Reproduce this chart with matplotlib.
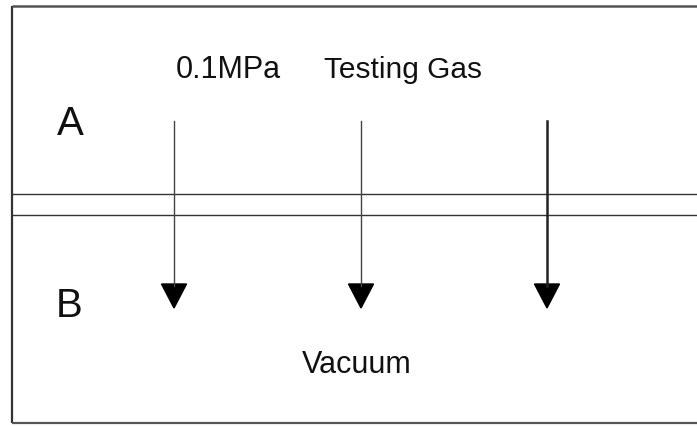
import matplotlib
matplotlib.use("Agg")
import matplotlib.pyplot as plt
from matplotlib.patches import Polygon

W, H = 697, 426

# Labels and their anchor positions (pixel space)
label_texts = ["0.1MPa", "Testing Gas", "Vacuum"]
label_x = [228, 403, 357]
label_y = [78, 78, 373]
label_size = [22, 21.5, 22]

side_texts = ["A", "B"]
side_x = [70, 69]
side_y = [135, 317]

# Arrows
arrow_x = [174, 361, 547]
arrow_top = 121
arrow_head_top = 284
arrow_tip = 308
arrow_head_w = 25
arrow_lw = [1.0, 1.0, 1.8]
arrow_color = ["#444444", "#444444", "#222222"]

# Plate (two horizontal lines)
plate_y = [194, 215]

# Frame
frame_left, frame_top, frame_bottom = 12, 6, 423

fig = plt.figure(figsize=(W / 100, H / 100), dpi=100)
ax = fig.add_axes([0, 0, 1, 1])
ax.set_xlim(0, W)
ax.set_ylim(H, 0)
ax.axis("off")

ff = ["Liberation Sans", "DejaVu Sans"]

# frame
ax.plot([frame_left, frame_left], [frame_top, frame_bottom], color="#333333", lw=1.6, solid_capstyle="butt")
ax.plot([frame_left, W], [frame_top, frame_top], color="#555555", lw=1.8, solid_capstyle="butt")
ax.plot([frame_left, W], [frame_bottom, frame_bottom], color="#555555", lw=1.6, solid_capstyle="butt")

for y in plate_y:
    ax.plot([frame_left, W], [y, y], color="#333333", lw=1.0)

for x, lw, c in zip(arrow_x, arrow_lw, arrow_color):
    ax.plot([x, x], [arrow_top, arrow_head_top + 2], color=c, lw=lw)
    tri = Polygon([[x - arrow_head_w / 2, arrow_head_top],
                   [x + arrow_head_w / 2, arrow_head_top],
                   [x, arrow_tip]], closed=True, color="black")
    ax.add_patch(tri)

for t, x, y, s in zip(label_texts, label_x, label_y, label_size):
    ax.text(x, y, t, ha="center", va="baseline", fontsize=s, family=ff, color="#111111")

for t, x, y in zip(side_texts, side_x, side_y):
    ax.text(x, y, t, ha="center", va="baseline", fontsize=29, family=ff, color="#111111")

fig.savefig("out.png", dpi=100, facecolor="white")
